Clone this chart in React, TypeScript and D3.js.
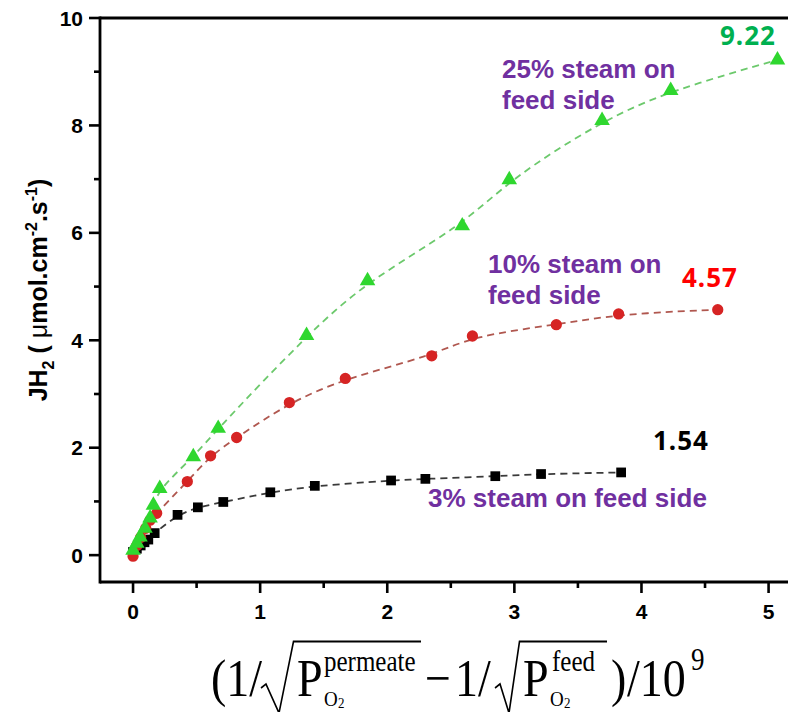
import React from 'react';
import * as d3 from 'd3';

// 3% steam on feed side
const x3 = [0, 0.03, 0.06, 0.09, 0.12, 0.17, 0.35, 0.51, 0.71, 1.08, 1.43, 2.03, 2.3, 2.85, 3.21, 3.84];
const y3 = [0.06, 0.12, 0.18, 0.24, 0.29, 0.41, 0.75, 0.89, 0.99, 1.17, 1.29, 1.39, 1.42, 1.47, 1.51, 1.54];
// 10% steam on feed side
const x10 = [0, 0.03, 0.06, 0.1, 0.134, 0.186, 0.427, 0.61, 0.815, 1.23, 1.67, 2.35, 2.67, 3.33, 3.82, 4.6];
const y10 = [-0.02, 0.18, 0.33, 0.5, 0.65, 0.78, 1.37, 1.85, 2.19, 2.84, 3.29, 3.71, 4.08, 4.29, 4.49, 4.57];
// 25% steam on feed side
const x25 = [0, 0.03, 0.055, 0.094, 0.134, 0.16, 0.21, 0.474, 0.67, 1.365, 1.845, 2.59, 2.96, 3.69, 4.23, 5.07];
const y25 = [0.09, 0.22, 0.34, 0.5, 0.69, 0.93, 1.24, 1.83, 2.36, 4.09, 5.11, 6.13, 6.99, 8.09, 8.65, 9.22];

const xTicks = [0, 1, 2, 3, 4, 5];
const xMinor = [0.5, 1.5, 2.5, 3.5, 4.5];
const yTicks = [0, 2, 4, 6, 8, 10];
const yMinor = [1, 3, 5, 7, 9];

const W = 788, H = 712;
const x = d3.scaleLinear().domain([-0.26, 5.2]).range([100, 794]);
const y = d3.scaleLinear().domain([-0.5, 10]).range([582, 18]);

const lineGen = d3.line<[number, number]>()
  .x(d => x(d[0]))
  .y(d => y(d[1]))
  .curve(d3.curveBasis);

const zip = (a: number[], b: number[]) => a.map((v, i) => [v, b[i]] as [number, number]);

const series = [
  { pts: zip(x3, y3), sym: d3.symbolSquare, size: 95, fill: '#000', line: '#3a3a3a' },
  { pts: zip(x10, y10), sym: d3.symbolCircle, size: 100, fill: '#d62424', line: '#b0574f' },
  { pts: zip(x25, y25), sym: d3.symbolTriangle, size: 105, fill: '#2fd72f', line: '#6cc96c' },
];

const sans = '"Liberation Sans", Arial, sans-serif';
const serif = '"Liberation Serif", "Times New Roman", serif';

export default function App() {
  const k = 1.15; // formula vertical stretch
  const left = x.range()[0];
  const bottom = y.range()[0];
  return (
    <svg width={W} height={H} style={{ position: 'absolute', left: 0, top: 0, background: '#fff' }}>
      <rect width={W} height={H} fill="#fff" />
      {/* fit lines */}
      {series.map((s, i) => (
        <path key={'l' + i} d={lineGen(s.pts) || ''} fill="none" stroke={s.line}
          strokeWidth={1.8} strokeDasharray="7,5" />
      ))}
      {/* markers */}
      {series.map((s, i) => (
        <g key={'m' + i}>
          {s.pts.map((p, j) => (
            <path key={j} d={d3.symbol().type(s.sym).size(s.size)() || ''}
              transform={`translate(${x(p[0])},${y(p[1])})`} fill={s.fill} />
          ))}
        </g>
      ))}

      {/* frame */}
      <g stroke="#000" strokeWidth={2.8} fill="none">
        <line x1={left} x2={W + 2} y1={y(10)} y2={y(10)} />
        <line x1={left} x2={W + 2} y1={bottom} y2={bottom} />
        <line x1={left} x2={left} y1={y(10) - 1.4} y2={bottom + 1.4} />
      </g>
      {/* ticks */}
      <g stroke="#000" strokeWidth={2.6}>
        {yTicks.map(t => <line key={t} x1={left - 11} x2={left} y1={y(t)} y2={y(t)} />)}
        {yMinor.map(t => <line key={t} x1={left - 6} x2={left} y1={y(t)} y2={y(t)} />)}
        {xTicks.map(t => <line key={t} x1={x(t)} x2={x(t)} y1={bottom} y2={bottom + 11} />)}
        {xMinor.map(t => <line key={t} x1={x(t)} x2={x(t)} y1={bottom} y2={bottom + 6} />)}
      </g>
      <g fontFamily={sans} fontWeight="bold" fontSize={21} fill="#000">
        {yTicks.map(t => (
          <text key={t} x={left - 17} y={y(t)} dy="0.36em" textAnchor="end">{t}</text>
        ))}
        {xTicks.map(t => (
          <text key={t} x={x(t)} y={bottom + 37} textAnchor="middle">{t}</text>
        ))}
      </g>

      {/* y title */}
      <text transform="translate(47,290) rotate(-90)" textAnchor="middle" fontFamily={sans}
        fontWeight="bold" fontSize={25} fill="#000">
        JH<tspan fontSize={16} dy={7}>2</tspan>
        <tspan dy={-7}> ( </tspan><tspan fontWeight="normal">μ</tspan>mol.cm
        <tspan fontSize={16} dy={-10}>-2</tspan>
        <tspan dy={10}>.s</tspan>
        <tspan fontSize={16} dy={-10}>-1</tspan>
        <tspan dy={10}>)</tspan>
      </text>

      {/* annotations */}
      <g fontFamily={sans} fontWeight="bold" fontSize={26} fill="#7030a0">
        <text x={502} y={78}>25% steam on</text>
        <text x={502} y={109}>feed side</text>
        <text x={488} y={273}>10% steam on</text>
        <text x={488} y={304}>feed side</text>
        <text x={428} y={507}>3% steam on feed side</text>
      </g>
      <g fontFamily={'"Noto Sans", "Open Sans", sans-serif'} fontWeight="bold" fontSize={26} letterSpacing={1}>
        <text x={720} y={45} fill="#00b050">9.22</text>
        <text x={682} y={287} fill="#ff0000">4.57</text>
        <text x={653} y={450} fill="#000">1.54</text>
      </g>

      {/* x title formula */}
      <g transform={`translate(0,696) scale(1,${k})`} fontFamily={serif} fill="#000">
        <text x={211} y={0} fontSize={46}>(1/</text>
        <path d={`M261,${-8 / k} L266,${-12 / k} L279,${17 / k} L293.5,${-54.5 / k} L421,${-54.5 / k}`}
          fill="none" stroke="#000" strokeWidth={1.6} />
        <text x={297} y={0} fontSize={46}>P</text>
        <text x={324} y={-22} fontSize={25}>permeate</text>
        <text x={324} y={9} fontSize={19}>O</text>
        <text x={338} y={10.5} fontSize={13}>2</text>
        <text x={425} y={0} fontSize={46}>−</text>
        <text x={455} y={0} fontSize={46}>1/</text>
        <path d={`M495,${-8 / k} L500,${-12 / k} L509,${17 / k} L519.5,${-54.5 / k} L607,${-54.5 / k}`}
          fill="none" stroke="#000" strokeWidth={1.6} />
        <text x={523} y={0} fontSize={46}>P</text>
        <text x={552} y={-22} fontSize={25}>feed</text>
        <text x={550} y={9} fontSize={19}>O</text>
        <text x={564} y={10.5} fontSize={13}>2</text>
        <text x={611} y={0} fontSize={46}>)</text>
        <text x={627} y={0} fontSize={46}>/10</text>
        <text x={691} y={-23} fontSize={27}>9</text>
      </g>
    </svg>
  );
}
